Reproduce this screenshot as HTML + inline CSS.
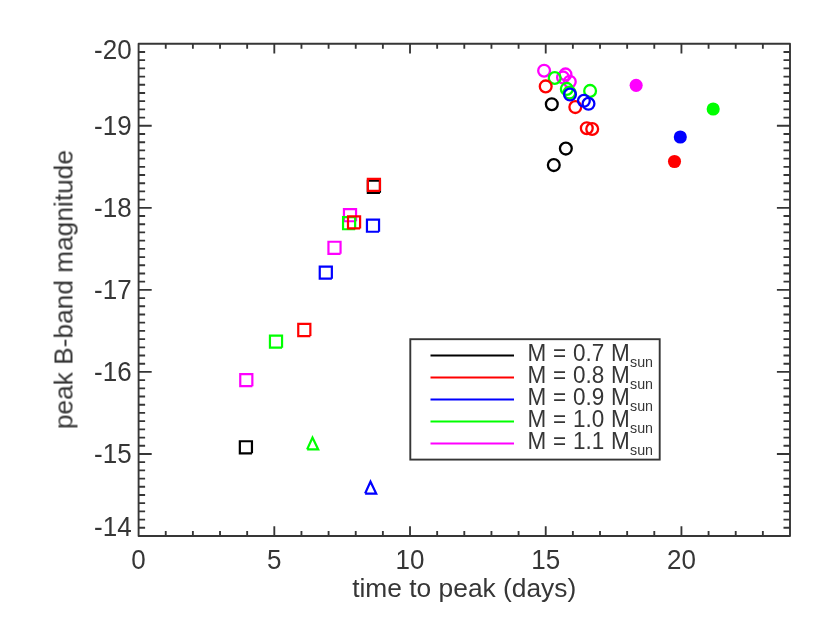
<!DOCTYPE html>
<html><head><meta charset="utf-8"><title>peak B-band magnitude vs time to peak</title>
<style>html,body{margin:0;padding:0;background:#fff;}body{width:830px;height:624px;overflow:hidden;}svg{display:block;}text{font-family:"Liberation Sans",sans-serif;fill:#363636;}</style>
</head><body>
<svg width="830" height="624" viewBox="0 0 830 624">
<rect x="0" y="0" width="830" height="624" fill="#ffffff"/>
<g stroke="#363636" stroke-width="1.85" fill="none" stroke-linecap="butt">
<path d="M165.742 536V531.1M165.742 43.75V48.65M192.883 536V531.1M192.883 43.75V48.65M220.025 536V531.1M220.025 43.75V48.65M247.167 536V531.1M247.167 43.75V48.65M274.308 536V526.2M274.308 43.75V53.55M301.45 536V531.1M301.45 43.75V48.65M328.592 536V531.1M328.592 43.75V48.65M355.733 536V531.1M355.733 43.75V48.65M382.875 536V531.1M382.875 43.75V48.65M410.017 536V526.2M410.017 43.75V53.55M437.158 536V531.1M437.158 43.75V48.65M464.3 536V531.1M464.3 43.75V48.65M491.442 536V531.1M491.442 43.75V48.65M518.583 536V531.1M518.583 43.75V48.65M545.725 536V526.2M545.725 43.75V53.55M572.867 536V531.1M572.867 43.75V48.65M600.008 536V531.1M600.008 43.75V48.65M627.15 536V531.1M627.15 43.75V48.65M654.292 536V531.1M654.292 43.75V48.65M681.433 536V526.2M681.433 43.75V53.55M708.575 536V531.1M708.575 43.75V48.65M735.717 536V531.1M735.717 43.75V48.65M762.858 536V531.1M762.858 43.75V48.65M138.6 527.796H145.1M790 527.796H783.5M138.6 519.592H145.1M790 519.592H783.5M138.6 511.387H145.1M790 511.387H783.5M138.6 503.183H145.1M790 503.183H783.5M138.6 494.979H145.1M790 494.979H783.5M138.6 486.775H145.1M790 486.775H783.5M138.6 478.571H145.1M790 478.571H783.5M138.6 470.367H145.1M790 470.367H783.5M138.6 462.163H145.1M790 462.163H783.5M138.6 453.958H151.7M790 453.958H776.9M138.6 445.754H145.1M790 445.754H783.5M138.6 437.55H145.1M790 437.55H783.5M138.6 429.346H145.1M790 429.346H783.5M138.6 421.142H145.1M790 421.142H783.5M138.6 412.938H145.1M790 412.938H783.5M138.6 404.733H145.1M790 404.733H783.5M138.6 396.529H145.1M790 396.529H783.5M138.6 388.325H145.1M790 388.325H783.5M138.6 380.121H145.1M790 380.121H783.5M138.6 371.917H151.7M790 371.917H776.9M138.6 363.712H145.1M790 363.712H783.5M138.6 355.508H145.1M790 355.508H783.5M138.6 347.304H145.1M790 347.304H783.5M138.6 339.1H145.1M790 339.1H783.5M138.6 330.896H145.1M790 330.896H783.5M138.6 322.692H145.1M790 322.692H783.5M138.6 314.488H145.1M790 314.488H783.5M138.6 306.283H145.1M790 306.283H783.5M138.6 298.079H145.1M790 298.079H783.5M138.6 289.875H151.7M790 289.875H776.9M138.6 281.671H145.1M790 281.671H783.5M138.6 273.467H145.1M790 273.467H783.5M138.6 265.262H145.1M790 265.262H783.5M138.6 257.058H145.1M790 257.058H783.5M138.6 248.854H145.1M790 248.854H783.5M138.6 240.65H145.1M790 240.65H783.5M138.6 232.446H145.1M790 232.446H783.5M138.6 224.242H145.1M790 224.242H783.5M138.6 216.038H145.1M790 216.038H783.5M138.6 207.833H151.7M790 207.833H776.9M138.6 199.629H145.1M790 199.629H783.5M138.6 191.425H145.1M790 191.425H783.5M138.6 183.221H145.1M790 183.221H783.5M138.6 175.017H145.1M790 175.017H783.5M138.6 166.812H145.1M790 166.812H783.5M138.6 158.608H145.1M790 158.608H783.5M138.6 150.404H145.1M790 150.404H783.5M138.6 142.2H145.1M790 142.2H783.5M138.6 133.996H145.1M790 133.996H783.5M138.6 125.792H151.7M790 125.792H776.9M138.6 117.587H145.1M790 117.587H783.5M138.6 109.383H145.1M790 109.383H783.5M138.6 101.179H145.1M790 101.179H783.5M138.6 92.975H145.1M790 92.975H783.5M138.6 84.771H145.1M790 84.771H783.5M138.6 76.567H145.1M790 76.567H783.5M138.6 68.363H145.1M790 68.363H783.5M138.6 60.158H145.1M790 60.158H783.5M138.6 51.954H145.1M790 51.954H783.5"/>
</g>
<rect x="138.6" y="43.75" width="651.4" height="492.25" fill="none" stroke="#363636" stroke-width="1.9" stroke-linejoin="round"/>
<g fill="none" stroke-width="2.2" stroke-linejoin="miter">
<path d="M379.95 192.85H367.85V180.75H379.95V192.85" stroke="#000000"/>
<path d="M251.95 453.35H239.85V441.25H251.95V453.35" stroke="#000000"/>
<path d="M356.05 221.25H343.95V209.15H356.05V221.25" stroke="#ff00ff"/>
<path d="M340.55 253.85H328.45V241.75H340.55V253.85" stroke="#ff00ff"/>
<path d="M252.35 386.15H240.25V374.05H252.35V386.15" stroke="#ff00ff"/>
<path d="M355.15 229.25H343.05V217.15H355.15V229.25" stroke="#00ff00"/>
<path d="M282.05 347.65H269.95V335.55H282.05V347.65" stroke="#00ff00"/>
<path d="M379.05 231.75H366.95V219.65H379.05V231.75" stroke="#0000ff"/>
<path d="M331.85 278.65H319.75V266.55H331.85V278.65" stroke="#0000ff"/>
<path d="M379.95 190.95H367.85V178.85H379.95V190.95" stroke="#ff0000"/>
<path d="M360.1 228.45H348V216.35H360.1V228.45" stroke="#ff0000"/>
<path d="M310.35 336.05H298.25V323.95H310.35V336.05" stroke="#ff0000"/>
<path d="M307.1 449.45L318.2 449.45L312.5 437.55L307.1 449.45" stroke="#00ff00"/>
<path d="M365.1 493.55L376.2 493.55L370.5 481.65L365.1 493.55" stroke="#0000ff"/>
<circle cx="551.8" cy="104.2" r="5.9" stroke="#000000" stroke-width="2.3"/>
<circle cx="565.85" cy="148.6" r="5.9" stroke="#000000" stroke-width="2.3"/>
<circle cx="553.8" cy="165.1" r="5.9" stroke="#000000" stroke-width="2.3"/>
<circle cx="544.1" cy="70.7" r="5.9" stroke="#ff00ff" stroke-width="2.3"/>
<circle cx="565.5" cy="74.4" r="5.9" stroke="#ff00ff" stroke-width="2.3"/>
<circle cx="563" cy="77.4" r="5.9" stroke="#ff00ff" stroke-width="2.3"/>
<circle cx="569.8" cy="81.7" r="5.9" stroke="#ff00ff" stroke-width="2.3"/>
<circle cx="554.7" cy="78" r="5.9" stroke="#00ff00" stroke-width="2.3"/>
<circle cx="566.8" cy="88.9" r="5.9" stroke="#00ff00" stroke-width="2.3"/>
<circle cx="569.5" cy="92.6" r="5.9" stroke="#00ff00" stroke-width="2.3"/>
<circle cx="590.1" cy="90.9" r="5.9" stroke="#00ff00" stroke-width="2.3"/>
<circle cx="545.7" cy="86.4" r="5.9" stroke="#ff0000" stroke-width="2.3"/>
<circle cx="575.3" cy="107.1" r="5.9" stroke="#ff0000" stroke-width="2.3"/>
<circle cx="586.8" cy="128.2" r="5.9" stroke="#ff0000" stroke-width="2.3"/>
<circle cx="592.2" cy="129" r="5.9" stroke="#ff0000" stroke-width="2.3"/>
<circle cx="570" cy="94.55" r="5.9" stroke="#0000ff" stroke-width="2.3"/>
<circle cx="583.9" cy="100.8" r="5.9" stroke="#0000ff" stroke-width="2.3"/>
<circle cx="588.5" cy="103.8" r="5.9" stroke="#0000ff" stroke-width="2.3"/>
<circle cx="636.15" cy="85.35" r="6.55" fill="#ff00ff" stroke="none"/>
<circle cx="713.2" cy="109" r="6.55" fill="#00ff00" stroke="none"/>
<circle cx="680.3" cy="137" r="6.55" fill="#0000ff" stroke="none"/>
<circle cx="674.5" cy="161.5" r="6.55" fill="#ff0000" stroke="none"/>
</g>
<rect x="410.3" y="339.2" width="249.4" height="120.4" fill="#ffffff" stroke="#363636" stroke-width="1.9"/>
<g stroke-width="2" fill="none">
<path d="M430.5 355.6H514" stroke="#000000"/>
<path d="M430.5 377.55H514" stroke="#ff0000"/>
<path d="M430.5 399.5H514" stroke="#0000ff"/>
<path d="M430.5 421.45H514" stroke="#00ff00"/>
<path d="M430.5 443.4H514" stroke="#ff00ff"/>
</g>
<g opacity="0.999">
<text transform="translate(138.6 568.6) scale(1 1.045)" font-size="26" text-anchor="middle">0</text>
<text transform="translate(274.308 568.6) scale(1 1.045)" font-size="26" text-anchor="middle">5</text>
<text transform="translate(410.017 568.6) scale(1 1.045)" font-size="26" text-anchor="middle">10</text>
<text transform="translate(545.725 568.6) scale(1 1.045)" font-size="26" text-anchor="middle">15</text>
<text transform="translate(681.433 568.6) scale(1 1.045)" font-size="26" text-anchor="middle">20</text>
<text transform="translate(131.6 535.6) scale(1 1.045)" font-size="26" text-anchor="end">-14</text>
<text transform="translate(131.6 463.408) scale(1 1.045)" font-size="26" text-anchor="end">-15</text>
<text transform="translate(131.6 381.367) scale(1 1.045)" font-size="26" text-anchor="end">-16</text>
<text transform="translate(131.6 299.325) scale(1 1.045)" font-size="26" text-anchor="end">-17</text>
<text transform="translate(131.6 217.283) scale(1 1.045)" font-size="26" text-anchor="end">-18</text>
<text transform="translate(131.6 135.242) scale(1 1.045)" font-size="26" text-anchor="end">-19</text>
<text transform="translate(131.6 58.8) scale(1 1.045)" font-size="26" text-anchor="end">-20</text>
<text transform="translate(464.2 596.9) scale(1 1)" font-size="26.35" text-anchor="middle">time to peak (days)</text>
<text transform="translate(72.5 289.6) rotate(-90) scale(1 1)" font-size="26.3" text-anchor="middle">peak B-band magnitude</text>
<text transform="translate(527.4 360.8) scale(1 1.06)" font-size="22.5" text-anchor="start" word-spacing="0.6">M = 0.7 M</text>
<text transform="translate(630 366.7) scale(1 1.08)" font-size="14.3" text-anchor="start">sun</text>
<text transform="translate(527.4 382.75) scale(1 1.06)" font-size="22.5" text-anchor="start" word-spacing="0.6">M = 0.8 M</text>
<text transform="translate(630 388.65) scale(1 1.08)" font-size="14.3" text-anchor="start">sun</text>
<text transform="translate(527.4 404.7) scale(1 1.06)" font-size="22.5" text-anchor="start" word-spacing="0.6">M = 0.9 M</text>
<text transform="translate(630 410.6) scale(1 1.08)" font-size="14.3" text-anchor="start">sun</text>
<text transform="translate(527.4 426.65) scale(1 1.06)" font-size="22.5" text-anchor="start" word-spacing="0.6">M = 1.0 M</text>
<text transform="translate(630 432.55) scale(1 1.08)" font-size="14.3" text-anchor="start">sun</text>
<text transform="translate(527.4 448.6) scale(1 1.06)" font-size="22.5" text-anchor="start" word-spacing="0.6">M = 1.1 M</text>
<text transform="translate(630 454.5) scale(1 1.08)" font-size="14.3" text-anchor="start">sun</text>
</g>
</svg>
</body></html>
